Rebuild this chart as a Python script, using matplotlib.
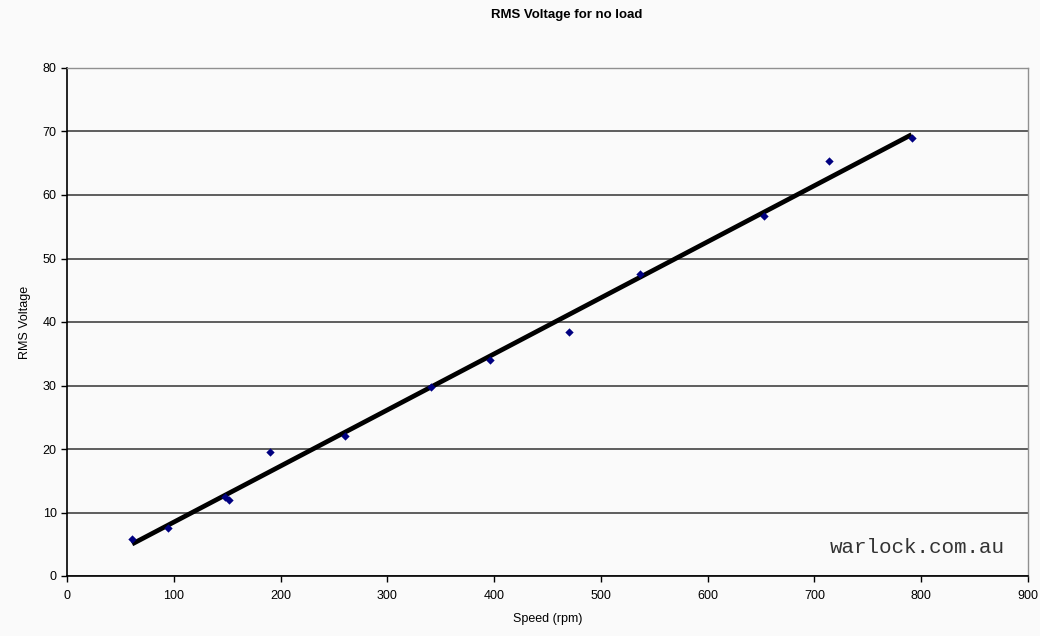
import numpy as np
import matplotlib
matplotlib.use("Agg")
import matplotlib.pyplot as plt

speed = [61, 95, 148, 152, 190, 260, 341, 396, 470, 537, 653, 714, 791]
voltage = [5.9, 7.5, 12.4, 11.9, 19.5, 22.1, 29.8, 34.0, 38.4, 47.6, 56.7, 65.4, 68.9]

x_ticks = [0, 100, 200, 300, 400, 500, 600, 700, 800, 900]
y_ticks = [0, 10, 20, 30, 40, 50, 60, 70, 80]

plt.rcParams['font.family'] = ['Liberation Sans', 'DejaVu Sans']

bg = '#fafafa'
fig = plt.figure(figsize=(10.4, 6.36), dpi=100, facecolor=bg)
ax = fig.add_axes([67/1040, 60/636, 961/1040, 508/636], facecolor=bg)

# trendline (linear fit of data)
coef = np.polyfit(speed, voltage, 1)
xs = np.array([min(speed), max(speed)])
ax.plot(xs, np.polyval(coef, xs), color='black', lw=3.4, zorder=3, solid_capstyle='butt')

ax.scatter(speed, voltage, marker='D', s=18, color='#000080', zorder=4, linewidths=0)

ax.set_xlim(0, 900)
ax.set_ylim(0, 80)
ax.set_xticks(x_ticks)
ax.set_yticks(y_ticks)
ax.yaxis.grid(True, color='#333333', lw=1.1)
ax.set_axisbelow(True)

for s in ['top', 'right']:
    ax.spines[s].set_color('#909090')
    ax.spines[s].set_linewidth(1.0)
for s in ['left', 'bottom']:
    ax.spines[s].set_color('black')
    ax.spines[s].set_linewidth(1.2)

ax.tick_params(axis='both', labelsize=9, color='black', width=1, length=4, direction='out')
ax.tick_params(axis='x', pad=6)

fig.text(567/1040, 1 - 15/636, 'RMS Voltage for no load', ha='center', va='center',
         fontsize=9.5, fontweight='bold')
ax.set_xlabel('Speed (rpm)', fontsize=9, labelpad=8)
ax.set_ylabel('RMS Voltage', fontsize=9, labelpad=8)

ax.text(0.976, 0.056, 'warlock.com.au', transform=ax.transAxes, ha='right', va='center',
        fontsize=15, family=['Liberation Mono', 'DejaVu Sans Mono'], color='#333333')

fig.savefig('out.png', dpi=100, facecolor=bg)
